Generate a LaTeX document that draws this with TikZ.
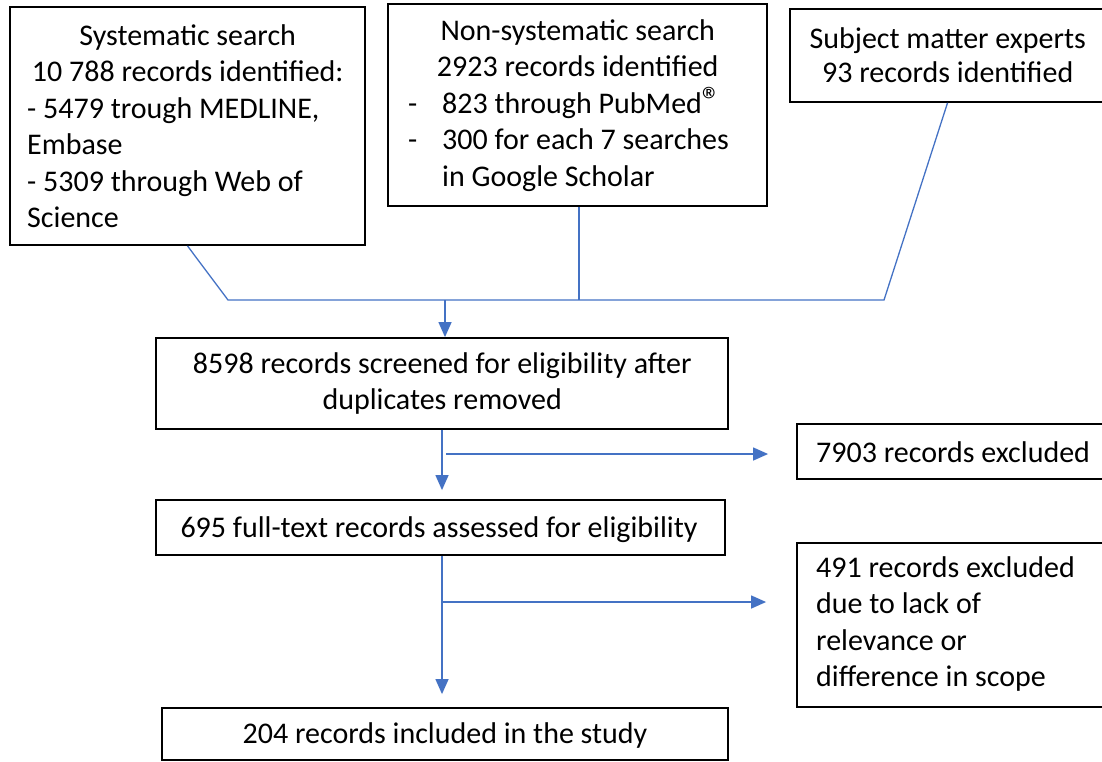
\documentclass[tikz,border=0pt]{standalone}
\usepackage{fontspec}
\setmainfont{Carlito}
\usetikzlibrary{arrows.meta}
\definecolor{linkblue}{HTML}{4472C4}
\newcommand{\boxfont}{\fontsize{30}{36.5}\selectfont}
\tikzset{
  box/.style={draw=black, line width=1.8pt, inner sep=0pt, fill=white},
  txt/.style={inner sep=0pt, anchor=base west, font=\boxfont},
  link/.style={draw=linkblue, line width=1.3pt},
  flow/.style={link, -{Triangle[length=15pt, width=13pt]}},
}
\begin{document}
\begin{tikzpicture}[x=1pt, y=1pt]
\useasboundingbox (0,0) rectangle (1102,-761);
\clip (0,0) rectangle (1102,-761);

% source boxes
\node[box, minimum width=355pt, minimum height=238pt] (sys) at (187.5,-126) {};
\node[box, minimum width=379pt, minimum height=202pt] (non) at (577.5,-105) {};
\node[box, minimum width=315pt, minimum height=93pt]  (sme) at (947.5,-55.5) {};

% process boxes
\node[box, minimum width=572pt, minimum height=91pt] (scr) at (442,-383.5) {};
\node[box, minimum width=569pt, minimum height=55pt] (full) at (440.5,-527.5) {};
\node[box, minimum width=566pt, minimum height=52pt] (inc) at (445,-734) {};

% exclusion boxes
\node[box, minimum width=313pt, minimum height=55pt]  (ex1) at (953.5,-451.5) {};
\node[box, minimum width=313pt, minimum height=164pt] (ex2) at (953.5,-625) {};

% texts
\node[txt] (sysT) at (27,-45) {\parbox[t]{321pt}{\boxfont
  \centering Systematic search\\ 10 788 records identified:\par
  \raggedright - 5479 trough MEDLINE,\\ Embase\\ - 5309 through Web of\\ Science}};
\node[txt] (nonT) at (408,-40) {\parbox[t]{339pt}{\boxfont
  \centering Non-systematic search\\ 2923 records identified\par
  \raggedright \makebox[34pt][l]{-}823 through PubMed{\fontsize{38}{38}\selectfont ®}\\
  \makebox[34pt][l]{-}300 for each 7 searches\\
  \hspace*{34pt}in Google Scholar}};
\node[txt] (smeT) at (797.5,-48) {\parbox[t]{300pt}{\fontsize{30}{34}\selectfont
  \centering Subject matter experts\\ 93 records identified}};
\node[txt] (scrT) at (162,-373) {\parbox[t]{560pt}{\boxfont
  \centering 8598 records screened for eligibility after\\ duplicates removed}};
\node[txt, anchor=base] (fullT) at (439,-537) {695 full-text records assessed for eligibility};
\node[txt, anchor=base] (incT) at (445,-743) {204 records included in the study};
\node[txt] (ex1T) at (816,-462) {7903 records excluded};
\node[txt] (ex2T) at (816,-577) {\parbox[t]{280pt}{\boxfont\raggedright
  491 records excluded\\ due to lack of\\ relevance or\\ difference in scope}};

% junction of the three sources
\coordinate (j1) at (228,-300);
\coordinate (j3) at (884,-300);
\coordinate (n1) at ([xshift=1.5pt]non.south);
\coordinate (j2) at (n1 |- j1);
\coordinate (jm) at (445,-300);
\draw[link] (sys.south) -- (j1) -- (j3) -- (sme.south);
\draw[link] (n1) -- (j2);
\draw[flow] (jm) -- (jm |- scr.north);

% main flow
\coordinate (s1) at (scr.south);
\draw[flow, shorten >=9pt] (s1) -- (s1 |- full.north);
\coordinate (s2) at (s1 |- full.south);
\draw[flow, shorten >=13pt] (s2) -- (s2 |- inc.north);

% exclusions
\coordinate (b1) at (446,-454);
\draw[flow, shorten >=28pt] (b1) -- (b1 -| ex1.west);
\coordinate (b2) at (s1 |- 0,-602);
\draw[flow, shorten >=30pt] (b2) -- (b2 -| ex2.west);
\end{tikzpicture}
\end{document}
